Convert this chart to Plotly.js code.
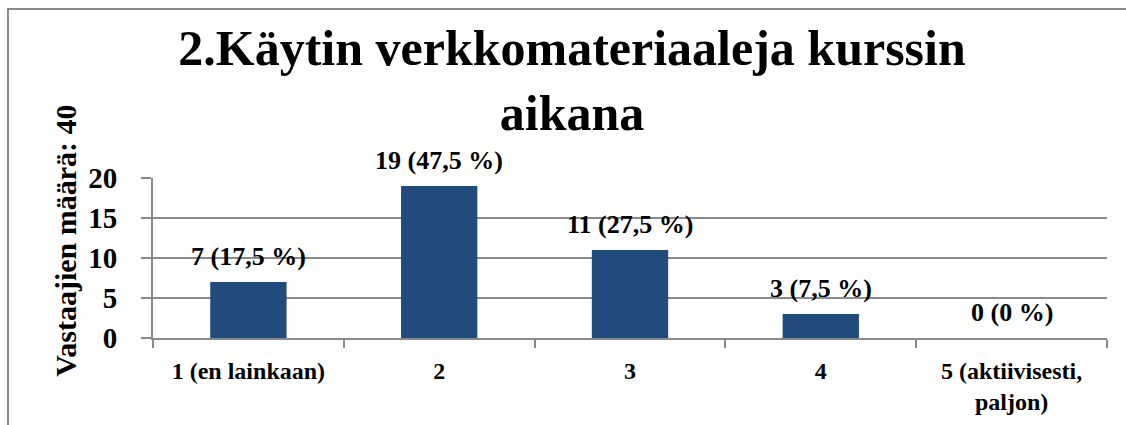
<!DOCTYPE html>
<html>
<head>
<meta charset="utf-8">
<script src="https://cdn.plot.ly/plotly-3.0.1.min.js"></script>
<style>
  body { margin: 0; background: #fff; }
  #wrap { position: relative; width: 1126px; height: 425px; }
  #frame { position: absolute; left: 7px; top: 8px; right: 0; bottom: 0;
           border-top: 2px solid #8a8a8a; border-left: 2px solid #8a8a8a; }
  #chart { position: absolute; left: 0; top: 0; width: 1126px; height: 425px; }
</style>
</head>
<body>
<div id="wrap">
  <div id="frame"></div>
  <div id="chart"></div>
</div>
<script>
var categories = ['1 (en lainkaan)', '2', '3', '4', '5 (aktiivisesti,<br>paljon)'];
var counts = [7, 19, 11, 3, 0];
var percents = ['17,5', '47,5', '27,5', '7,5', '0'];
var yTicks = [0, 5, 10, 15, 20];

var serif = 'Liberation Serif';

var trace = {
    x: categories,
    y: counts,
    type: 'bar',
    width: 0.4,
    marker: { color: '#214A7D', line: { width: 0 } },
    hoverinfo: 'none'
};

// value labels above each bar
var labels = categories.map(function (c, i) {
    return {
        x: i,
        y: counts[i],
        xref: 'x',
        yref: 'y',
        text: '<b>' + counts[i] + ' (' + percents[i] + ' %)</b>',
        showarrow: false,
        xanchor: 'center',
        yanchor: 'bottom',
        yshift: 9,
        font: { family: serif, size: 26, color: '#000' }
    };
});

// y axis title
labels.push({
    text: '<b>Vastaajien määrä: 40</b>',
    xref: 'paper',
    yref: 'paper',
    x: -0.092,
    y: 0.61,
    xanchor: 'center',
    yanchor: 'middle',
    textangle: -90,
    showarrow: false,
    font: { family: serif, size: 30, color: '#000' }
});

var layout = {
    width: 1126,
    height: 425,
    margin: { l: 153, r: 19, t: 178, b: 87 },
    paper_bgcolor: 'rgba(0,0,0,0)',
    plot_bgcolor: 'rgba(0,0,0,0)',
    font: { family: serif },
    showlegend: false,
    title: {
        text: '<b>2.Käytin verkkomateriaaleja kurssin<br>aikana</b>',
        font: { family: serif, size: 50, color: '#000' },
        xref: 'container',
        x: 0.508,
        yref: 'container',
        y: 0.847,
        yanchor: 'middle'
    },
    xaxis: {
        type: 'category',
        tickson: 'boundaries',
        ticks: 'outside',
        ticklen: 8,
        tickcolor: '#8a8a8a',
        tickwidth: 2,
        showline: true,
        linecolor: '#8a8a8a',
        linewidth: 2,
        showgrid: false,
        ticklabelstandoff: 10,
        tickfont: { family: serif, size: 24, color: '#000', weight: 'bold' }
    },
    yaxis: {
        range: [0, 20],
        tickvals: yTicks,
        ticks: 'outside',
        ticklen: 10,
        tickcolor: '#8a8a8a',
        tickwidth: 2,
        showline: true,
        linecolor: '#8a8a8a',
        linewidth: 2,
        showgrid: true,
        gridcolor: '#8a8a8a',
        gridwidth: 2,
        zeroline: false,
        ticklabelstandoff: 18,
        tickfont: { family: serif, size: 29, color: '#000', weight: 'bold' }
    },
    annotations: labels
};

Plotly.newPlot('chart', [trace], layout, { displayModeBar: false, staticPlot: true });
</script>
</body>
</html>
